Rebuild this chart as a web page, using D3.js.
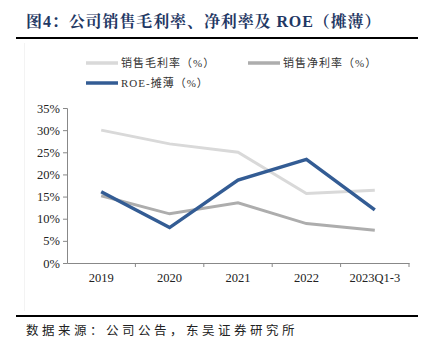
<!DOCTYPE html>
<html><head><meta charset="utf-8">
<script src="https://cdn.jsdelivr.net/npm/d3@7"></script>
<style>body{margin:0;background:#fff}svg{display:block}</style>
</head><body>
<svg id="c" width="431" height="355"></svg>
<script>
const categories = ["2019","2020","2021","2022","2023Q1-3"];
const grossMargin = [30.0, 26.9, 25.0, 15.7, 16.4];
const netMargin = [15.2, 11.1, 13.6, 8.9, 7.4];
const roe = [16.1, 8.0, 18.7, 23.4, 12.0];
const yTicks = [0,5,10,15,20,25,30,35];
const seriesNames = ["销售毛利率（%）","销售净利率（%）","ROE-摊薄（%）"];
const title = "图4：公司销售毛利率、净利率及 ROE（摊薄）";
const source = "数据来源：公司公告，东吴证券研究所";

const svg = d3.select("#c");
const serif = "'Liberation Serif','Times New Roman','Noto Serif CJK SC','Noto Sans CJK SC',serif";
const cjk = "'Liberation Serif','Noto Sans CJK SC',sans-serif";

// faint background edge
svg.append("line").attr("x1",24.5).attr("x2",24.5).attr("y1",43).attr("y2",311).attr("stroke","#f3f3f3");

svg.append("text").attr("x",26).attr("y",27).attr("font-family",serif).attr("font-weight","bold")
  .attr("font-size",16).attr("letter-spacing",0.9).attr("fill","#1f3864").text(title);
svg.append("line").attr("x1",16).attr("x2",418).attr("y1",38).attr("y2",38).attr("stroke","#000").attr("stroke-width",2);
svg.append("line").attr("x1",16).attr("x2",418).attr("y1",316).attr("y2",316).attr("stroke","#000").attr("stroke-width",2);
svg.append("text").attr("x",26).attr("y",335).attr("font-family",cjk).attr("font-size",12.5)
  .attr("letter-spacing",3.5).attr("fill","#222").text(source);

const x = d3.scaleBand().domain(categories).range([67,409]);
const y = d3.scaleLinear().domain([0,35]).range([263,108]);

const yAxis = svg.append("g").attr("transform","translate(67,0)")
  .call(d3.axisLeft(y).tickValues(yTicks).tickSize(4).tickPadding(3).tickFormat(d=>d+"%"));
yAxis.selectAll("text").attr("font-family",serif).attr("font-size",12.5).attr("fill","#222");
yAxis.selectAll("line,path").attr("stroke","#888");

const xAxis = svg.append("g").attr("transform","translate(0,263)")
  .call(d3.axisBottom(x).tickSize(0).tickPadding(10));
xAxis.select(".domain").attr("stroke","#888");
xAxis.selectAll("text").attr("font-family",serif).attr("font-size",12.5).attr("fill","#222");
xAxis.selectAll("line").remove();
// boundary ticks
const bounds = categories.map(c=>x(c)).concat([x.range()[1]]);
svg.append("g").selectAll("line").data(bounds.slice(1)).join("line")
  .attr("x1",d=>d).attr("x2",d=>d).attr("y1",263).attr("y2",267).attr("stroke","#888");

const colors = ["#d9d9d9","#adadad","#335c94"];
const widths = [3,3,3.5];
const data = [grossMargin, netMargin, roe];
const line = d3.line().x((d,i)=>x(categories[i])+x.bandwidth()/2).y(d=>y(d));
data.forEach((s,k)=>{
  svg.append("path").attr("d",line(s)).attr("fill","none").attr("stroke",colors[k])
    .attr("stroke-width",widths[k]).attr("stroke-linejoin","miter");
});

// legend
const leg = [{x:86,y:63},{x:248,y:63},{x:86,y:83}];
leg.forEach((p,k)=>{
  svg.append("line").attr("x1",p.x).attr("x2",p.x+32).attr("y1",p.y).attr("y2",p.y)
    .attr("stroke",colors[k]).attr("stroke-width",3.5);
  svg.append("text").attr("x",p.x+35).attr("y",p.y+4).attr("font-family",cjk).attr("font-size",11)
    .attr("letter-spacing",1).attr("fill","#333").text(seriesNames[k]);
});
</script>
</body></html>
